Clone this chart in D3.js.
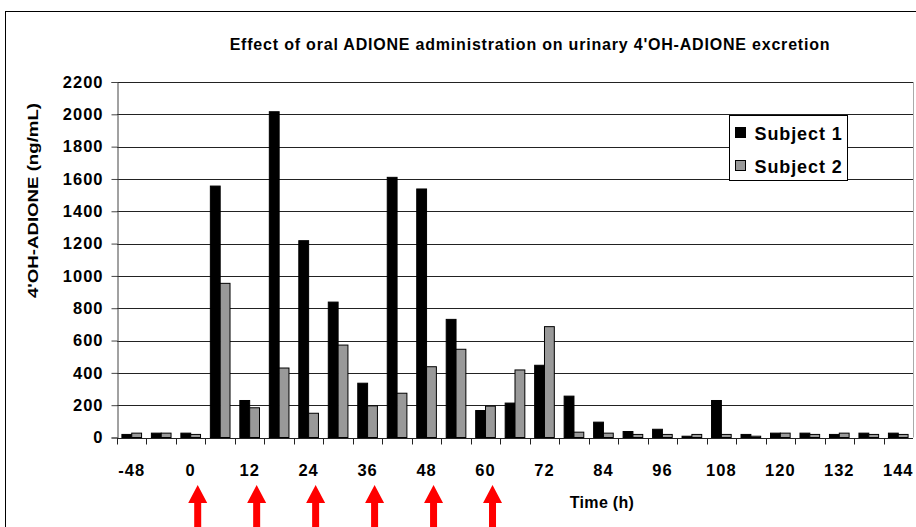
<!DOCTYPE html>
<html>
<head>
<meta charset="utf-8">
<script src="https://cdn.jsdelivr.net/npm/d3@7"></script>
<style>
  body { margin: 0; background: #fff; }
  svg { display: block; font-family: Arial, "Liberation Sans", sans-serif; }
</style>
</head>
<body>
<svg id="chart" width="916" height="527"></svg>
<script>
// times (h) of each urine sample
const times = [-48, -24, 0, 6, 12, 18, 24, 30, 36, 42, 48, 54, 60, 66, 72, 78, 84, 90, 96, 102, 108, 114, 120, 126, 132, 138, 144];
const subject1 = [19, 27, 27, 1556, 229, 2016, 1218, 838, 336, 1610, 1538, 731, 167, 213, 447, 256, 95, 37, 51, 8, 229, 19, 27, 27, 19, 27, 27];
const subject2 = [27, 27, 19, 954, 184, 430, 150, 572, 196, 274, 438, 546, 194, 418, 686, 33, 27, 19, 19, 19, 19, 8, 27, 19, 27, 19, 19];
const seriesNames = ["Subject 1", "Subject 2"];
const seriesColors = ["#000000", "#999999"];
const yTicks = d3.range(0, 2201, 200);
// oral doses given at these times
const doseTimes = [0, 12, 24, 36, 48, 60];

const svg = d3.select("#chart");
const plotL = 117, plotR = 913, plotT = 82, plotB = 437.5;

// outer chart frame (runs off the picture on the right and bottom)
svg.append("rect").attr("x", 5.5).attr("y", 11.5).attr("width", 1000).attr("height", 1000)
  .attr("fill", "none").attr("stroke", "#000");

const x = d3.scaleBand().domain(times).range([plotL, plotR]);
const xs = d3.scaleBand().domain([0, 1])
  .range([x.bandwidth() / 6, x.bandwidth() * 5 / 6]);
const y = d3.scaleLinear().domain([0, 2200]).range([plotB, plotT]);

// gridlines
svg.append("g").selectAll("line").data(yTicks.slice(1)).join("line")
  .attr("x1", plotL).attr("x2", plotR)
  .attr("y1", d => Math.round(y(d)) + 0.5).attr("y2", d => Math.round(y(d)) + 0.5)
  .attr("stroke", "#222");

// right edge of plot
svg.append("line").attr("x1", plotR + 0.5).attr("x2", plotR + 0.5)
  .attr("y1", plotT).attr("y2", plotB).attr("stroke", "#aaa");

// bars
const rows = times.map((t, i) => ({ t, vals: [subject1[i], subject2[i]] }));
const groups = svg.append("g").selectAll("g").data(rows).join("g")
  .attr("transform", d => `translate(${x(d.t)},0)`);
groups.selectAll("rect").data(d => d.vals.map((v, k) => ({ v, k }))).join("rect")
  .attr("x", d => xs(d.k))
  .attr("width", xs.bandwidth())
  .attr("y", d => y(d.v))
  .attr("height", d => plotB - y(d.v))
  .attr("fill", d => seriesColors[d.k])
  .attr("stroke", "#000").attr("stroke-width", 1);

// y axis
const yAxis = svg.append("g").attr("transform", `translate(${plotL + 0.5},0)`)
  .call(d3.axisLeft(y).tickValues(yTicks).tickSize(6).tickPadding(8).tickFormat(d3.format("d")));
yAxis.select(".domain").attr("stroke", "#444");
yAxis.selectAll(".tick line").attr("stroke", "#444");
yAxis.selectAll("text").attr("font-size", 16.5).attr("font-weight", "bold")
  .attr("letter-spacing", 1).attr("fill", "#000");

// x axis: ticks on category boundaries, labels on every second category
const xAxisG = svg.append("g").attr("transform", `translate(0,${Math.round(plotB) + 0.5})`);
xAxisG.append("line").attr("x1", plotL).attr("x2", plotR).attr("stroke", "#222");
xAxisG.selectAll(".tk").data(times).join("line").attr("class", "tk")
  .attr("x1", d => Math.round(x(d)) + 0.5).attr("x2", d => Math.round(x(d)) + 0.5)
  .attr("y1", 0).attr("y2", 6).attr("stroke", "#222");
xAxisG.selectAll("text").data(times.filter((d, i) => i % 2 === 0)).join("text")
  .attr("x", d => x(d) + x.bandwidth() / 2)
  .attr("y", 37)
  .attr("text-anchor", "middle")
  .attr("font-size", 16.5).attr("font-weight", "bold").attr("letter-spacing", 1)
  .text(d => d);

// titles
svg.append("text").attr("x", 530).attr("y", 50).attr("text-anchor", "middle")
  .attr("font-size", 16).attr("font-weight", "bold").attr("letter-spacing", 0.8)
  .text("Effect of oral ADIONE administration on urinary 4'OH-ADIONE excretion");
svg.append("text").attr("transform", "translate(38,298) rotate(-90)")
  .attr("font-size", 14.5).attr("font-weight", "bold")
  .attr("textLength", 195).attr("lengthAdjust", "spacingAndGlyphs")
  .text("4'OH-ADIONE (ng/mL)");
svg.append("text").attr("x", 602).attr("y", 508).attr("text-anchor", "middle")
  .attr("font-size", 16).attr("font-weight", "bold").attr("letter-spacing", 0.3).text("Time (h)");

// legend
const lg = svg.append("g").attr("transform", "translate(729.5,115.5)");
lg.append("rect").attr("width", 118).attr("height", 65).attr("fill", "#fff").attr("stroke", "#000");
seriesNames.forEach((name, k) => {
  lg.append("rect").attr("x", 6).attr("y", 12 + k * 33).attr("width", 10).attr("height", 10)
    .attr("fill", seriesColors[k]).attr("stroke", "#000");
  lg.append("text").attr("x", 25).attr("y", 24.5 + k * 33)
    .attr("font-size", 18).attr("font-weight", "bold").attr("letter-spacing", 0.9).text(name);
});

// red dose arrows
svg.append("g").selectAll("path").data(doseTimes).join("path")
  .attr("transform", d => `translate(${x(d) + x.bandwidth() / 2 + 7},485)`)
  .attr("d", "M0,0 L9.5,18 L3.5,18 L3.5,50 L-3.5,50 L-3.5,18 L-9.5,18 Z")
  .attr("fill", "#ff0000");
</script>
</body>
</html>
